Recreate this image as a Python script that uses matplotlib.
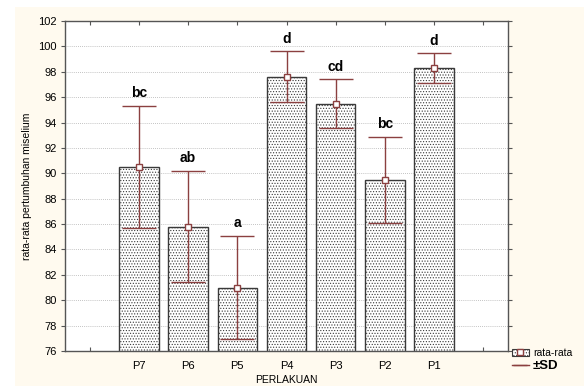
import matplotlib

matplotlib.use("Agg")
import matplotlib.pyplot as plt
from matplotlib.lines import Line2D
from matplotlib.patches import Rectangle
import numpy as np

# data
categories = ["P7", "P6", "P5", "P4", "P3", "P2", "P1"]
means = [90.5, 85.8, 81.0, 97.6, 95.5, 89.5, 98.3]
sds = [4.8, 4.4, 4.05, 2.0, 1.9, 3.4, 1.15]
letters = ["bc", "ab", "a", "d", "cd", "bc", "d"]

ERR_COLOR = "#8B4040"
BG_COLOR = "#FFFAEF"
plt.rcParams["hatch.color"] = "#8a8a8a"
plt.rcParams["hatch.linewidth"] = 0.5
plt.rcParams["font.family"] = ["Liberation Sans", "DejaVu Sans"]

fig = plt.figure(figsize=(5.84, 3.86), dpi=100, facecolor="white")
fig.add_artist(Rectangle((15 / 584, 0), 1, 1 - 7 / 386, transform=fig.transFigure,
                         facecolor=BG_COLOR, edgecolor="none", zorder=-10))
ax = fig.add_axes([65 / 584, 1 - 351 / 386, (508 - 65) / 584, (351 - 21) / 386])
ax.set_facecolor("white")

x = np.arange(1, len(categories) + 1)
ax.bar(x, means, width=0.8, bottom=0, color="white", edgecolor="#3a3a3a",
       linewidth=1.0, hatch="......", zorder=2)
ax.errorbar(x, means, yerr=sds, fmt="s", color=ERR_COLOR, ecolor=ERR_COLOR,
            elinewidth=1.0, capsize=12, capthick=1.0, markersize=5,
            markerfacecolor="white", markeredgecolor=ERR_COLOR, zorder=3)
for xi, m, s, lab in zip(x, means, sds, letters):
    ax.text(xi, m + s + 0.45, lab, ha="center", va="bottom", fontsize=10,
            fontweight="bold", color="black")

ax.set_xlim(-0.5, 8.5)
ax.set_ylim(76, 102)
ax.set_yticks(np.arange(76, 103, 2))
ax.set_xticks(np.arange(0, 9))
ax.set_xticklabels([""] + categories + [""])
ax.grid(axis="y", linestyle=(0, (1, 1.5)), color="#b0b0b0", linewidth=0.6, zorder=0)
ax.tick_params(axis="both", direction="in", labelsize=8, length=3,
               top=True, right=True, color="#555555")
ax.tick_params(axis="y", direction="out", pad=3)
ax.tick_params(axis="x", pad=7)
for sp in ax.spines.values():
    sp.set_color("#555555")
    sp.set_linewidth(1.0)

ax.set_ylabel("rata-rata pertumbuhan miselium", fontsize=7.5, labelpad=4)
ax.set_xlabel("PERLAKUAN", fontsize=7.5, labelpad=3)

# legend drawn outside the axes, lower right
bar_patch = Rectangle((0, 0), 1, 1, facecolor="white", edgecolor="#3a3a3a",
                      hatch="......", linewidth=0.8)
mean_marker = Line2D([], [], marker="s", linestyle="none", color=ERR_COLOR,
                     markerfacecolor="white", markersize=4)
err_handle = Line2D([], [], color=ERR_COLOR, linewidth=1.0, marker="_", markersize=10)
leg = fig.legend([(bar_patch, mean_marker), err_handle], ["rata-rata", "±SD"],
                 loc="lower left", bbox_to_anchor=(512 / 584, 14 / 386), frameon=False,
                 fontsize=7.5, handlelength=1.6, handletextpad=0.4, labelspacing=0.2,
                 borderaxespad=0, borderpad=0)
leg.get_texts()[1].set_fontweight("bold")
leg.get_texts()[1].set_fontsize(9.5)

fig.savefig("out.png", dpi=100, facecolor="white")
